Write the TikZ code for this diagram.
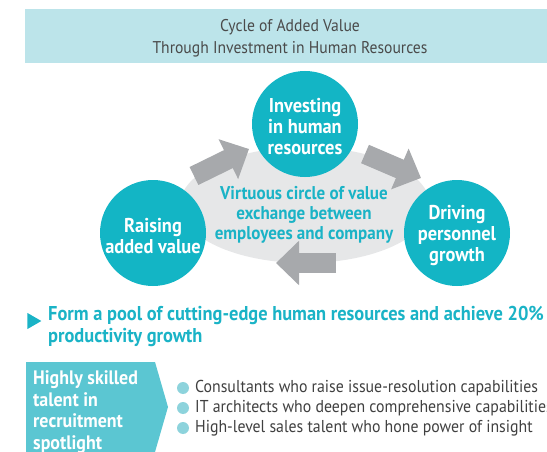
\documentclass[tikz,border=0pt]{standalone}
\usepackage{fontspec}
\setmainfont{PT Sans}[FakeStretch=0.92]
\usetikzlibrary{arrows.meta,shapes.geometric}
\definecolor{titlefill}{HTML}{BCE4EA}
\definecolor{titletext}{HTML}{4A4A4A}
\definecolor{teal}{HTML}{13B5C5}
\definecolor{ellgray}{HTML}{E6E7E8}
\definecolor{arrgray}{HTML}{A7A9AC}
\definecolor{headteal}{HTML}{1AB3C6}
\definecolor{boxfill}{HTML}{5BC6D2}
\definecolor{bulletc}{HTML}{8DD3DC}
\definecolor{bodytext}{HTML}{404040}
\tikzset{
  stage/.style={circle,fill=teal,minimum size=106pt,inner sep=0pt},
  stagetext/.style={text=white,font=\bfseries\fontsize{20}{21}\selectfont,align=center,inner sep=0pt},
  bigarrow/.style={draw=arrgray,line width=20pt,-{Triangle[length=23pt,width=43pt]}},
  bulletdot/.style={circle,fill=bulletc,minimum size=12pt,inner sep=0pt},
  bullettext/.style={anchor=west,text=bodytext,font=\fontsize{17.2}{19}\selectfont,inner sep=0pt}
}
\begin{document}
\begin{tikzpicture}[x=1pt,y=-1pt]
\useasboundingbox (0,0) rectangle (547,452);
% title
\fill[titlefill] (25,9) rectangle (547,63);
\node[text=titletext,font=\fontsize{17}{22}\selectfont,align=center] (title) at (290,38)
  {Cycle of Added Value\\Through Investment in Human Resources};
% ellipse
\node[ellipse,fill=ellgray,minimum width=250pt,minimum height=116pt,inner sep=0pt] (ell) at (305,205) {};
% arrows
\coordinate (a1s) at (194,176); \coordinate (a1e) at (249,149);
\coordinate (a2s) at (365,154); \coordinate (a2e) at (421,178);
\coordinate (a3s) at (336,263); \coordinate (a3e) at (276,263);
\draw[bigarrow] (a1s) -- (a1e);
\draw[bigarrow] (a2s) -- (a2e);
\draw[bigarrow] (a3s) -- (a3e);
% circles
\node[stage] (invest) at (305,124) {};
\node[stage] (raise) at (153,233) {};
\node[stage] (drive) at (457,233) {};
\node[stagetext] (investt) at (305,127) {Investing\\in human\\resources};
\node[stagetext] (raiset) at (153,236) {Raising\\added value};
\node[stagetext] (drivet) at (457,236) {Driving\\personnel\\growth};
\node[text=headteal,font=\bfseries\fontsize{18.5}{20}\selectfont,align=center] (center) at (304,215)
  {Virtuous circle of value\\exchange between\\employees and company};
% headline
\node[isosceles triangle,fill=headteal,minimum height=14pt,minimum width=15pt,inner sep=0pt,
  isosceles triangle apex angle=60] (tri) at (32,321) {};
\node[anchor=west,text=headteal,font=\bfseries\fontsize{20}{22}\selectfont,align=left,inner sep=0pt] (head) at (48,326)
  {Form a pool of cutting-edge human resources and achieve 20\%\\productivity growth};
% box
\fill[boxfill] (26,362) -- (155,362) -- (168,407) -- (155,452) -- (26,452) -- cycle;
\node[anchor=west,text=white,font=\bfseries\fontsize{19.5}{21.5}\selectfont,align=left,inner sep=0pt] (box) at (33,412)
  {Highly skilled\\talent in\\recruitment\\spotlight};
% bullets
\node[bulletdot] (b1) at (183,388) {};
\node[bulletdot] (b2) at (183,408) {};
\node[bulletdot] (b3) at (183,428) {};
\node[bullettext] (t1) at (195,388) {Consultants who raise issue-resolution capabilities};
\node[bullettext] (t2) at (195,408) {IT architects who deepen comprehensive capabilities};
\node[bullettext] (t3) at (195,428) {High-level sales talent who hone power of insight};
\end{tikzpicture}
\end{document}
